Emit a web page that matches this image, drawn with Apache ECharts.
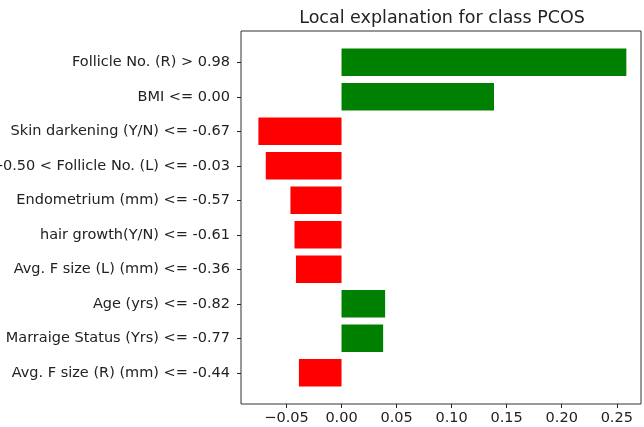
<!DOCTYPE html>
<html>
<head>
<meta charset="utf-8">
<script src="https://cdn.jsdelivr.net/npm/echarts@6/dist/echarts.min.js"></script>
<style>
  html, body { margin: 0; padding: 0; background: #fff; }
  #chart { width: 644px; height: 427px; }
</style>
</head>
<body>
<div id="chart"></div>
<script>
var features = [
  'Follicle No. (R) > 0.98',
  'BMI <= 0.00',
  'Skin darkening (Y/N) <= -0.67',
  '-0.50 < Follicle No. (L) <= -0.03',
  'Endometrium (mm) <= -0.57',
  'hair growth(Y/N) <= -0.61',
  'Avg. F size (L) (mm) <= -0.36',
  'Age (yrs) <= -0.82',
  'Marraige Status (Yrs) <= -0.77',
  'Avg. F size (R) (mm) <= -0.44'
];
var weights = [0.2587, 0.1385, -0.0755, -0.0688, -0.0464, -0.0427, -0.0414, 0.0396, 0.0378, -0.0387];
var xTicks = [-0.05, 0.00, 0.05, 0.10, 0.15, 0.20, 0.25];

var chart = echarts.init(document.getElementById('chart'));
var font = 'DejaVu Sans';

var option = {
  animation: false,
  title: {
    text: 'Local explanation for class PCOS',
    left: 437,
    top: 4,
    textAlign: 'center',
    textStyle: { fontFamily: font, fontWeight: 'normal', fontSize: 17.5, color: '#222' }
  },
  grid: [
    // frame box
    { left: 241, right: 3, top: 31, bottom: 23, show: true, borderColor: '#333', borderWidth: 1,
      backgroundColor: 'transparent', outerBoundsMode: 'none' },
    // data area
    { left: 241, right: 3, top: 45, bottom: 37, outerBoundsMode: 'none' }
  ],
  xAxis: [
    { gridIndex: 0, type: 'value', min: 0, max: 1, show: false },
    {
      gridIndex: 1,
      type: 'value',
      min: -0.0913,
      max: 0.272,
      offset: 14,
      splitLine: { show: false },
      axisLine: { show: false, onZero: false },
      axisLabel: {
        margin: 7,
        fontFamily: font,
        fontSize: 14.5,
        color: '#222',
        customValues: xTicks,
        formatter: function (v) { return v.toFixed(2).replace('-', '\u2212'); }
      },
      axisTick: { show: true, length: 4, lineStyle: { color: '#222' }, customValues: xTicks }
    }
  ],
  yAxis: [
    { gridIndex: 0, type: 'value', min: 0, max: 1, show: false },
    {
      gridIndex: 1,
      type: 'category',
      inverse: true,
      data: features,
      axisLine: { show: false, onZero: false },
      axisTick: { show: true, length: 4, alignWithLabel: true, lineStyle: { color: '#222' } },
      axisLabel: { margin: 11, fontFamily: font, fontSize: 14.5, color: '#222' }
    }
  ],
  series: [
    {
      type: 'bar',
      xAxisIndex: 1,
      yAxisIndex: 1,
      barWidth: '80%',
      data: weights,
      itemStyle: {
        color: function (p) { return p.value > 0 ? '#008000' : '#ff0000'; }
      }
    }
  ]
};
chart.setOption(option);
</script>
</body>
</html>
